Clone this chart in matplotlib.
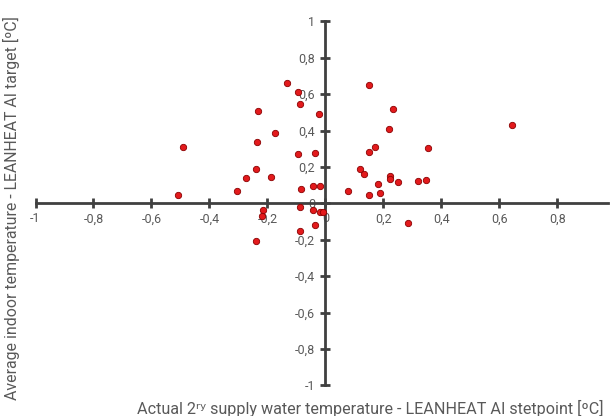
import matplotlib.pyplot as plt

plt.rcParams['font.family'] = ['Roboto', 'DejaVu Sans']

# supply water temperature deviation (x) vs indoor temperature deviation (y)
dx = [-0.134, -0.096, -0.087, -0.022, -0.232, -0.173, -0.235, -0.492, -0.096,
      -0.037, -0.239, -0.274, -0.189, -0.305, -0.510, -0.084, -0.042, -0.018,
      0.079, -0.089, -0.043, -0.020, -0.009, -0.216, -0.218, -0.037, -0.086,
      -0.240, 0.149, 0.233, 0.218, 0.170, 0.152, 0.355, 0.118, 0.134, 0.222,
      0.222, 0.250, 0.320, 0.348, 0.180, 0.187, 0.152, 0.644, 0.284]
dy = [0.659, 0.610, 0.544, 0.491, 0.505, 0.388, 0.339, 0.311, 0.271,
      0.276, 0.190, 0.139, 0.146, 0.068, 0.046, 0.079, 0.095, 0.095,
      0.068, -0.020, -0.037, -0.048, -0.048, -0.037, -0.070, -0.119, -0.154,
      -0.207, 0.648, 0.520, 0.410, 0.308, 0.284, 0.306, 0.190, 0.161, 0.152,
      0.135, 0.119, 0.122, 0.130, 0.106, 0.057, 0.046, 0.432, -0.108]

ticks = [-1, -0.8, -0.6, -0.4, -0.2, 0, 0.2, 0.4, 0.6, 0.8]
yticks = [-1, -0.8, -0.6, -0.4, -0.2, 0, 0.2, 0.4, 0.6, 0.8, 1]

def fmt(v):
    s = ('%g' % v).replace('.', ',')
    return '0' if s == '-0' else s

axis_col = '#404040'
text_col = '#595959'

fig = plt.figure(figsize=(6.1, 4.16), dpi=100)
ax = fig.add_axes([35.5 / 610, (416 - 385.3) / 416, 572.5 / 610, 364 / 416])

ax.scatter(dx, dy, s=21, color='#e31a1c', edgecolors='#8b0000', linewidths=0.6, zorder=3)

ax.set_xlim(-1, 0.975)
ax.set_ylim(-1, 1)
ax.spines['left'].set_position(('data', 0))
ax.spines['bottom'].set_position(('data', 0))
ax.spines['top'].set_visible(False)
ax.spines['right'].set_visible(False)
for s in ['left', 'bottom']:
    ax.spines[s].set_color(axis_col)
    ax.spines[s].set_linewidth(2)

ax.set_xticks(ticks)
ax.set_xticklabels([fmt(t) for t in ticks])
ax.set_yticks(yticks)
ax.set_yticklabels([fmt(t) for t in yticks])
ax.tick_params(direction='inout', length=7, width=2, color=axis_col,
               labelcolor=text_col, labelsize=9)
ax.tick_params(axis='x', pad=3)
ax.tick_params(axis='y', pad=4)

fig.text(0.019, 0.5, 'Average indoor temperature - LEANHEAT AI target [ºC]',
         rotation=90, ha='center', va='center', color=text_col, fontsize=11.4)
fig.text(0.989, 0.019, 'Actual 2ʳʸ supply water temperature - LEANHEAT AI stetpoint [ºC]',
         ha='right', va='center', color=text_col, fontsize=11.6)

fig.savefig('out.png', dpi=100)
